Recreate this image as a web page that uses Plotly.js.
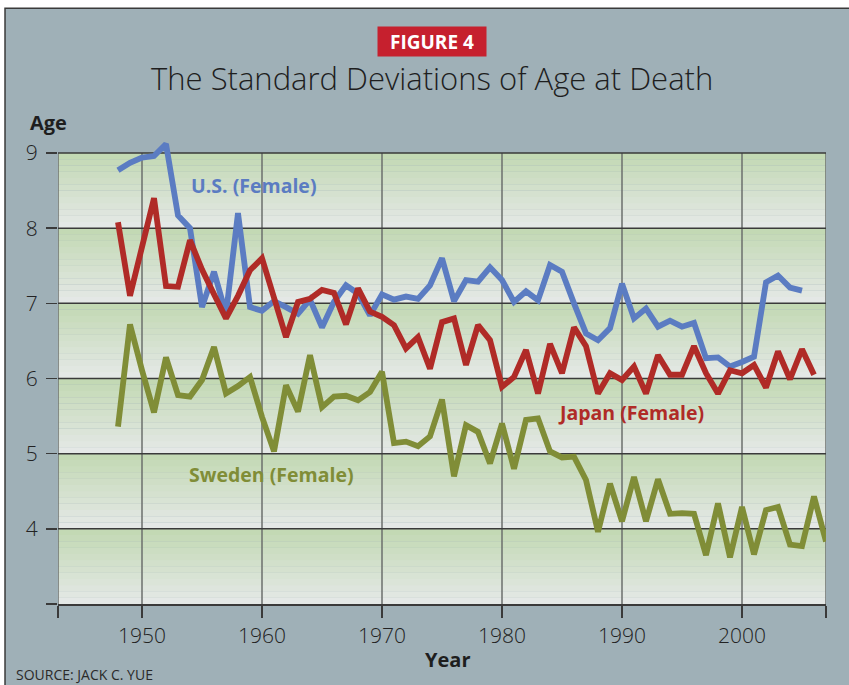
<!DOCTYPE html>
<html>
<head>
<meta charset="utf-8">
<script src="https://cdn.plot.ly/plotly-3.0.1.min.js"></script>
<style>html,body{margin:0;padding:0;background:#fff;}#chart{width:849px;height:685px;}</style>
</head>
<body>
<div id="chart"></div>
<script>
const years = [];
for (let y = 1948; y <= 2007; y++) years.push(y);

const usFemale = [8.77, 8.87, 8.94, 8.96, 9.12, 8.17, 8.0, 6.95, 7.42, 6.86,
  8.2, 6.95, 6.9, 7.03, 6.95, 6.86, 7.05, 6.68, 7.02, 7.24,
  7.13, 6.84, 7.12, 7.05, 7.09, 7.06, 7.24, 7.6, 7.03, 7.31,
  7.29, 7.48, 7.31, 7.02, 7.16, 7.04, 7.51, 7.42, 7.0, 6.6,
  6.51, 6.67, 7.26, 6.8, 6.93, 6.69, 6.77, 6.69, 6.74, 6.27,
  6.28, 6.16, 6.22, 6.29, 7.28, 7.37, 7.21, 7.17];

const japanFemale = [8.08, 7.1, 7.75, 8.4, 7.23, 7.22, 7.84, 7.45, 7.12, 6.8,
  7.1, 7.44, 7.6, 7.1, 6.55, 7.02, 7.06, 7.18, 7.14, 6.72,
  7.2, 6.89, 6.82, 6.71, 6.4, 6.55, 6.13, 6.75, 6.8, 6.18,
  6.71, 6.51, 5.89, 6.02, 6.38, 5.8, 6.46, 6.07, 6.68, 6.43,
  5.8, 6.07, 5.98, 6.16, 5.8, 6.31, 6.05, 6.05, 6.43, 6.07,
  5.8, 6.11, 6.07, 6.18, 5.88, 6.36, 5.99, 6.39, 6.05];

const swedenFemale = [5.36, 6.72, 6.11, 5.55, 6.28, 5.78, 5.76, 5.98, 6.42, 5.8,
  5.9, 6.02, 5.49, 5.03, 5.91, 5.56, 6.31, 5.62, 5.76, 5.77,
  5.71, 5.82, 6.09, 5.14, 5.16, 5.1, 5.23, 5.72, 4.7, 5.38,
  5.29, 4.87, 5.4, 4.8, 5.45, 5.47, 5.03, 4.95, 4.96, 4.65,
  3.96, 4.6, 4.1, 4.69, 4.1, 4.66, 4.2, 4.21, 4.2, 3.65,
  4.34, 3.62, 4.29, 3.66, 4.25, 4.29, 3.79, 3.77, 4.43, 3.83];

const xTickVals = [1943, 1950, 1960, 1970, 1980, 1990, 2000, 2007];
const xTickText = ["", "1950", "1960", "1970", "1980", "1990", "2000", ""];
const yTickVals = [3, 4, 5, 6, 7, 8, 9];
const yTickText = ["", "4", "5", "6", "7", "8", "9"];

const seriesNames = ["U.S. (Female)", "Japan (Female)", "Sweden (Female)"];
const seriesColors = ["#5b7cc2", "#b02b27", "#808d37"];

const X0 = 1943, X1 = 2007, Y0 = 3, Y1 = 9;

const traces = [
  {x: years.slice(0, usFemale.length), y: usFemale, name: seriesNames[0]},
  {x: years.slice(0, japanFemale.length), y: japanFemale, name: seriesNames[1]},
  {x: years.slice(0, swedenFemale.length), y: swedenFemale, name: seriesNames[2]}
].map((t, i) => Object.assign(t, {
  type: 'scatter', mode: 'lines', hoverinfo: 'skip',
  line: {color: seriesColors[i], width: 5.8}
}));

const shapes = [];
// outer frame
shapes.push({type: 'rect', xref: 'paper', yref: 'paper', x0: -0.069, x1: 1.06, y0: -0.2, y1: 1.2784,
  fillcolor: '#9fb0b7', line: {color: '#3a3a3a', width: 1.5}, layer: 'below'});
// banded gradient background
const bandTop = [194, 216, 178], bandBot = [229, 233, 232];
const steps = 12;
for (let b = Y0; b < Y1; b++) {
  for (let s = 0; s < steps; s++) {
    const f = (s + 0.5) / steps;
    const c = bandTop.map((v, k) => Math.round(bandBot[k] + (v - bandBot[k]) * f));
    shapes.push({type: 'rect', xref: 'x', yref: 'y', x0: X0, x1: X1,
      y0: b + s / steps, y1: b + (s + 1) / steps + 0.002,
      fillcolor: `rgb(${c[0]},${c[1]},${c[2]})`, line: {width: 0}, layer: 'below'});
  }
}
// vertical grid lines
[1943, 1950, 1960, 1970, 1980, 1990, 2000, 2007].forEach(v => {
  shapes.push({type: 'line', xref: 'x', yref: 'y', x0: v, x1: v, y0: Y0, y1: Y1,
    line: {color: '#6b6f6c', width: 1.5}, layer: 'below'});
});
// horizontal grid lines
[4, 5, 6, 7, 8, 9].forEach(v => {
  shapes.push({type: 'line', xref: 'x', yref: 'y', x0: X0, x1: X1, y0: v, y1: v,
    line: {color: '#3a3a3a', width: 1.5}, layer: 'below'});
});

const tickFont = {family: 'Open Sans, sans-serif', size: 21, color: '#222', weight: 300};

const annotations = [
  {xref: 'paper', yref: 'paper', x: 0.4876, y: 1.2066, xanchor: 'center', yanchor: 'middle',
   text: '<b>FIGURE 4</b>', showarrow: false, bgcolor: '#c6202e', width: 106, height: 27,
   font: {family: 'Open Sans, sans-serif', size: 19, color: '#ffffff'}},
  {xref: 'paper', yref: 'paper', x: 0.4876, y: 1.1285, xanchor: 'center', yanchor: 'middle',
   text: 'The Standard Deviations of Age at Death', showarrow: false,
   font: {family: 'Open Sans, sans-serif', size: 31, color: '#1e1e1e', weight: 300}},
  {xref: 'paper', yref: 'paper', x: -0.0130, y: 1.0343, xanchor: 'center', yanchor: 'middle',
   text: '<b>Age</b>', showarrow: false,
   font: {family: 'Open Sans, sans-serif', size: 20, color: '#1e1e1e'}},
  {xref: 'paper', yref: 'paper', x: 0.5078, y: -0.1199, xanchor: 'center', yanchor: 'middle',
   text: '<b>Year</b>', showarrow: false,
   font: {family: 'Open Sans, sans-serif', size: 20, color: '#1e1e1e'}},
  {xref: 'paper', yref: 'paper', x: -0.0573, y: -0.152, xanchor: 'left', yanchor: 'middle',
   text: 'SOURCE: JACK C. YUE', showarrow: false,
   font: {family: 'Open Sans, sans-serif', size: 14, color: '#2a2a2a'}},
  {xref: 'x', yref: 'y', x: 1959.3, y: 8.57, xanchor: 'center', yanchor: 'middle',
   text: '<b>' + seriesNames[0] + '</b>', showarrow: false,
   font: {family: 'Open Sans, sans-serif', size: 19.5, color: seriesColors[0]}},
  {xref: 'x', yref: 'y', x: 1990.75, y: 5.55, xanchor: 'center', yanchor: 'middle',
   text: '<b>' + seriesNames[1] + '</b>', showarrow: false,
   font: {family: 'Open Sans, sans-serif', size: 19.5, color: seriesColors[1]}},
  {xref: 'x', yref: 'y', x: 1960.75, y: 4.72, xanchor: 'center', yanchor: 'middle',
   text: '<b>' + seriesNames[2] + '</b>', showarrow: false,
   font: {family: 'Open Sans, sans-serif', size: 19.5, color: seriesColors[2]}}
];

const layout = {
  width: 849, height: 685,
  margin: {l: 58, r: 23, t: 137.5, b: 81, pad: 0},
  paper_bgcolor: '#ffffff',
  plot_bgcolor: 'rgba(0,0,0,0)',
  showlegend: false,
  xaxis: {
    range: [X0, X1], showgrid: false, zeroline: false,
    tickmode: 'array', tickvals: xTickVals, ticktext: xTickText,
    ticks: 'outside', ticklen: 12, tickwidth: 1.5, tickcolor: '#3a3a3a',
    showline: true, linecolor: '#3a3a3a', linewidth: 1.5,
    tickfont: tickFont, fixedrange: true
  },
  yaxis: {
    range: [Y0, 9.2], showgrid: false, zeroline: false,
    tickmode: 'array', tickvals: yTickVals, ticktext: yTickText,
    ticks: 'outside', ticklen: 11, tickwidth: 1.5, tickcolor: '#3a3a3a',
    showline: false, ticklabelstandoff: 4,
    tickfont: tickFont, fixedrange: true
  },
  shapes: shapes,
  annotations: annotations
};

Plotly.newPlot('chart', traces, layout, {displayModeBar: false, staticPlot: true});
</script>
</body>
</html>
